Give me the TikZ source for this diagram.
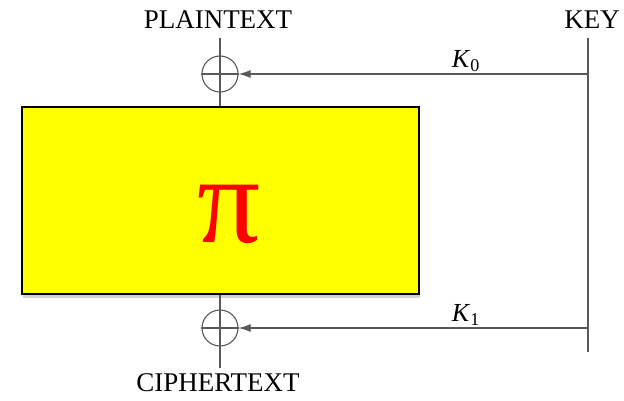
\documentclass[tikz,border=0pt]{standalone}
\usepackage{fontspec}
\setmainfont{Liberation Serif}
\usetikzlibrary{arrows.meta,shadows}
\definecolor{amarelo}{RGB}{255,255,0}
\definecolor{vermelho}{RGB}{255,0,0}
\tikzset{
  fio/.style={black!65, line width=1.1pt},
  chave/.style={-{Latex[length=12pt, width=8pt]}, black!65, line width=1.1pt},
  xor/.style={circle, draw=black!65, line width=1.1pt, minimum size=36pt, inner sep=0pt},
  caixa/.style={draw=black, line width=2pt, fill=amarelo, minimum width=397pt, minimum height=187pt,
    drop shadow={shadow xshift=1.5pt, shadow yshift=-4pt, opacity=0.35}},
  rotulo/.style={font=\fontsize{27}{29}\selectfont, inner sep=0pt},
  sub/.style={text=black, font=\fontsize{26}{28}\selectfont, inner sep=2pt},
}
\newcommand{\subk}[1]{\textit{K}\raisebox{-0.35ex}{\fontsize{18}{19}\selectfont #1}}

\begin{document}
\begin{tikzpicture}[x=1pt, y=-1pt]
  \useasboundingbox (0,0) rectangle (624,401);

  % ---------------- textos ----------------
  \node[rotulo] (plain)  at (218,20)  {PLAINTEXT};
  \node[rotulo] (key)    at (592,20)  {KEY};
  \node[rotulo] (cipher) at (218,383) {CIPHERTEXT};

  % ---------------- permutacao ----------------
  \node[caixa] (perm) at (220,200.5) {};
  \node[text=vermelho, font=\fontsize{125}{125}\selectfont, inner sep=0pt] (pi) at (229,214) {π};

  % ---------------- xor ----------------
  \node[xor] (xor0) at (220,74)  {};
  \node[xor] (xor1) at (220,328) {};
  \coordinate (ptop) at (220,38);
  \coordinate (cbot) at (220,368);
  \coordinate (ktop) at (588,38);
  \coordinate (kbot) at (588,352);
  \coordinate (k0)   at (588,74);
  \coordinate (k1)   at (588,328);

  \draw[fio] (ptop) -- (perm.north);
  \draw[fio] (perm.south) -- (cbot);
  \draw[fio] (xor0.west) -- (xor0.east);
  \draw[fio] (xor1.west) -- (xor1.east);
  \draw[fio] (ktop) -- (kbot);
  \draw[chave] (k0) -- (xor0.east) node[sub, pos=0.35, above] {\subk{0}};
  \draw[chave] (k1) -- (xor1.east) node[sub, pos=0.35, above] {\subk{1}};
\end{tikzpicture}
\end{document}
